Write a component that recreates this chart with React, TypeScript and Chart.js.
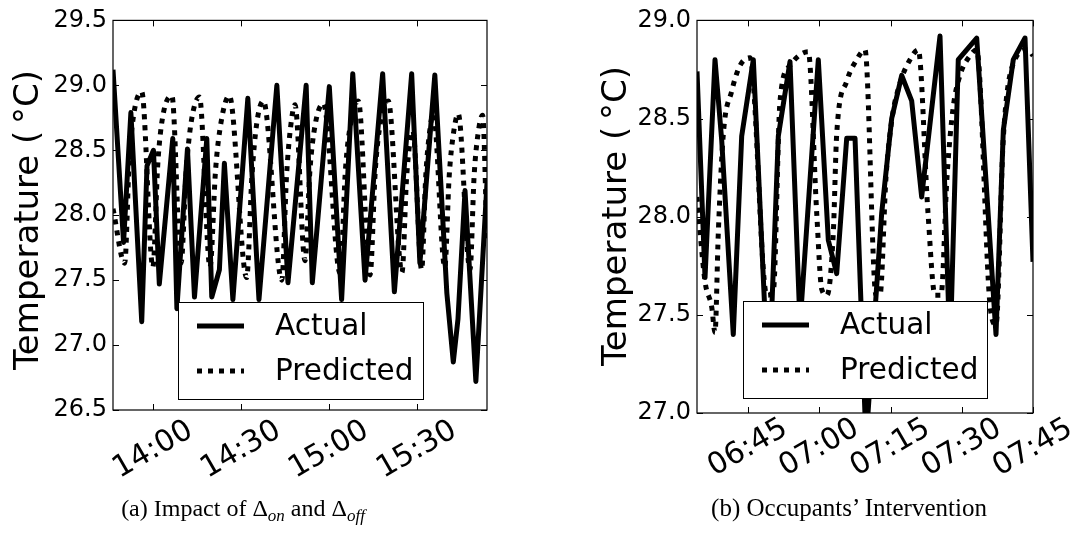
import React, { useEffect, useRef } from "react";
import { Chart, registerables } from "chart.js";

Chart.register(...registerables);

const FONT = "'DejaVu Sans', 'Noto Sans', sans-serif";
const Y_TICK_FS = 24;
const X_TICK_FS = 30;
const TITLE_FS = 34;
const LEGEND_FS = 29.5;
const SERIF = "'Liberation Serif', 'DejaVu Serif', serif";

// ---------- Panel (a): minutes since midnight, temperature (°C) ----------
const aActualTime = [826.3, 829.9, 832.4, 836.1, 837.9, 840.1, 842.1, 846.7, 848.1, 851.7, 854.1, 858.3, 860.0, 862.6, 864.3, 867.2, 872.3, 876.1, 882.2, 886.0, 892.2, 894.3, 900.1, 904.3, 908.1, 912.3, 918.3, 922.3, 928.2, 931.0, 936.1, 940.2, 942.4, 944.0, 946.4, 950.1, 953.9];
const aActualTemp = [29.12, 27.79, 28.79, 27.18, 28.38, 28.5, 27.47, 28.59, 27.28, 28.51, 27.37, 28.59, 27.37, 27.58, 28.4, 27.35, 28.9, 27.35, 29.0, 27.48, 29.0, 27.48, 28.99, 27.35, 29.09, 27.5, 29.09, 27.41, 29.09, 27.63, 29.08, 27.4, 26.87, 27.2, 28.19, 26.72, 28.25];
const aPredTime = [826.3, 830.3, 831.8, 833.2, 836.1, 839.9, 841.6, 843.2, 846.4, 849.5, 851.3, 853.0, 855.8, 859.4, 861.3, 863.2, 866.0, 871.9, 873.7, 875.3, 877.6, 883.9, 885.5, 886.9, 888.4, 891.8, 893.5, 895.3, 898.1, 903.8, 905.6, 907.5, 910.0, 914.0, 915.8, 917.6, 920.2, 924.9, 926.5, 928.6, 931.6, 933.0, 934.2, 935.6, 939.5, 941.0, 942.4, 944.1, 948.1, 949.5, 950.8, 952.4, 953.9];
const aPredTemp = [28.05, 27.63, 28.4, 28.75, 28.95, 27.6, 28.4, 28.75, 28.92, 27.63, 28.35, 28.72, 28.91, 27.6, 28.35, 28.72, 28.92, 27.52, 28.3, 28.7, 28.88, 27.5, 28.3, 28.68, 28.85, 27.65, 28.35, 28.7, 28.86, 27.55, 28.35, 28.72, 28.88, 27.54, 28.35, 28.72, 28.88, 27.56, 28.3, 28.65, 27.58, 28.3, 28.62, 28.78, 27.6, 28.3, 28.62, 28.78, 27.58, 28.3, 28.62, 28.77, 27.8];
const aXTicks = [840, 870, 900, 930];
const aXTickLabels = ["14:00", "14:30", "15:00", "15:30"];
const aYTicks = [26.5, 27.0, 27.5, 28.0, 28.5, 29.0, 29.5];

// ---------- Panel (b) ----------
const bActualTime = [394.26, 395.95, 398.05, 399.46, 401.9, 403.67, 406.12, 408.58, 409.99, 411.38, 413.84, 415.95, 419.8, 421.91, 423.67, 425.78, 427.53, 429.84, 433.15, 435.25, 437.36, 439.46, 441.56, 445.42, 447.53, 449.27, 453.15, 457.21, 458.75, 460.85, 463.32, 465.0];
const bActualTemp = [28.74, 27.69, 28.8, 28.39, 27.4, 28.41, 28.8, 27.5, 27.52, 28.41, 28.79, 27.45, 28.8, 27.88, 27.71, 28.4, 28.4, 26.85, 28.02, 28.5, 28.72, 28.59, 28.1, 28.92, 27.3, 28.8, 28.91, 27.4, 28.44, 28.8, 28.91, 27.77];
const bPredTime = [394.26, 395.95, 397.36, 398.05, 398.75, 399.8, 401.57, 403.32, 405.42, 408.94, 410.33, 411.74, 413.84, 417.69, 419.46, 420.52, 421.63, 422.96, 423.67, 425.78, 427.88, 429.63, 431.95, 432.79, 434.05, 435.32, 437.0, 439.1, 440.85, 442.89, 444.37, 445.63, 446.89, 448.16, 449.63, 451.74, 453.15, 455.95, 457.21, 458.75, 460.85, 463.95, 465.0];
const bPredTemp = [28.1, 27.67, 27.54, 27.41, 27.92, 28.42, 28.64, 28.77, 28.81, 27.6, 27.62, 28.59, 28.77, 28.84, 28.02, 27.63, 27.6, 27.92, 28.42, 28.69, 28.8, 28.85, 27.6, 27.6, 28.2, 28.5, 28.68, 28.8, 28.85, 28.02, 27.6, 27.6, 28.2, 28.55, 28.72, 28.82, 28.85, 27.55, 27.45, 28.4, 28.78, 28.85, 28.82];
const bXTicks = [405, 420, 435, 450, 465];
const bXTickLabels = ["06:45", "07:00", "07:15", "07:30", "07:45"];
const bYTicks = [27.0, 27.5, 28.0, 28.5, 29.0];

const seriesNames = ["Actual", "Predicted"];
const yTitle = "Temperature (\u2009°C)";

type Area = { left: number; top: number; right: number; bottom: number };
type PanelProps = {
  left: number;
  width: number;
  height: number;
  area: Area;
  xMin: number;
  xMax: number;
  yMin: number;
  yMax: number;
  xTicks: number[];
  xTickLabels: string[];
  yTicks: number[];
  actualT: number[];
  actualV: number[];
  predT: number[];
  predV: number[];
  legend: { x: number; y: number; w: number; h: number };
  titleX: number;
  titleY: number;
  xLabelOffset: number;
};

const XH = 4;

function PanelChart(p: PanelProps) {
  const ref = useRef<HTMLCanvasElement>(null);
  useEffect(() => {
    const canvas = ref.current!;
    const toPts = (t: number[], v: number[]) => t.map((x, i) => ({ x, y: v[i] }));
    const decor = {
      id: "decor",
      afterDraw(chart: any) {
        const { ctx, chartArea: a, scales } = chart;
        const xs = scales.x;
        const ys = scales.y;
        ctx.save();
        // frame
        ctx.strokeStyle = "#000";
        ctx.lineWidth = 1.2;
        ctx.strokeRect(a.left, a.top, a.right - a.left, a.bottom - a.top);
        // inward ticks on all sides
        ctx.lineWidth = 1;
        ctx.beginPath();
        for (const v of p.xTicks) {
          const px = Math.round(xs.getPixelForValue(v)) + 0.5;
          ctx.moveTo(px, a.bottom);
          ctx.lineTo(px, a.bottom - 6);
          ctx.moveTo(px, a.top);
          ctx.lineTo(px, a.top + 6);
        }
        for (const v of p.yTicks) {
          const py = Math.round(ys.getPixelForValue(v)) + 0.5;
          ctx.moveTo(a.left, py);
          ctx.lineTo(a.left + 6, py);
          ctx.moveTo(a.right, py);
          ctx.lineTo(a.right - 6, py);
        }
        ctx.stroke();
        // rotated x labels
        ctx.fillStyle = "#000";
        ctx.font = `${X_TICK_FS}px ${FONT}`;
        ctx.textAlign = "center";
        ctx.textBaseline = "middle";
        p.xTicks.forEach((v, i) => {
          const px = xs.getPixelForValue(v);
          ctx.save();
          ctx.translate(px, a.bottom + p.xLabelOffset);
          ctx.rotate(-Math.PI / 6);
          ctx.fillText(p.xTickLabels[i], 0, 0);
          ctx.restore();
        });
        // y title
        ctx.font = `${TITLE_FS}px ${FONT}`;
        ctx.save();
        ctx.translate(p.titleX, p.titleY);
        ctx.rotate(-Math.PI / 2);
        ctx.fillText(yTitle, 0, 0);
        ctx.restore();
        // legend
        const L = p.legend;
        ctx.fillStyle = "#fff";
        ctx.fillRect(L.x, L.y, L.w, L.h);
        ctx.strokeStyle = "#000";
        ctx.lineWidth = 1;
        ctx.strokeRect(L.x + 0.5, L.y + 0.5, L.w, L.h);
        const rows = [L.y + 24, L.y + 69];
        ctx.lineWidth = 5;
        ctx.lineCap = "butt";
        rows.forEach((ry, i) => {
          ctx.setLineDash(i === 0 ? [] : [5, 6]);
          ctx.beginPath();
          ctx.moveTo(L.x + 19, ry);
          ctx.lineTo(L.x + 66, ry);
          ctx.stroke();
        });
        ctx.setLineDash([]);
        ctx.fillStyle = "#000";
        ctx.font = `${LEGEND_FS}px ${FONT}`;
        ctx.textAlign = "left";
        ctx.textBaseline = "middle";
        rows.forEach((ry, i) => {
          ctx.fillText(seriesNames[i], L.x + 97, ry + 1);
        });
        ctx.restore();
      },
    };
    const chart = new Chart(canvas, {
      type: "line",
      data: {
        datasets: [
          {
            label: seriesNames[0],
            data: toPts(p.actualT, p.actualV),
            borderColor: "#000",
            borderWidth: 5,
            pointRadius: 0,
            tension: 0,
            borderJoinStyle: "round",
            clip: 0,
            order: 1,
          } as any,
          {
            label: seriesNames[1],
            data: toPts(p.predT, p.predV),
            borderColor: "#000",
            borderWidth: 5,
            borderDash: [5, 6],
            pointRadius: 0,
            cubicInterpolationMode: "monotone",
            borderJoinStyle: "round",
            clip: 0,
            order: 0,
          } as any,
        ],
      },
      options: {
        animation: false,
        responsive: false,
        devicePixelRatio: 1,
        layout: {
          padding: {
            left: 0,
            top: p.area.top,
            right: p.width - p.area.right,
            bottom: p.height - p.area.bottom - XH,
          },
        },
        plugins: { legend: { display: false }, tooltip: { enabled: false } },
        scales: {
          x: {
            type: "linear",
            min: p.xMin,
            max: p.xMax,
            ticks: { display: false },
            grid: { display: false, drawTicks: false },
            border: { display: false },
            afterBuildTicks: (s: any) => {
              s.ticks = p.xTicks.map((v) => ({ value: v }));
            },
            afterFit: (s: any) => {
              s.height = XH;
            },
          },
          y: {
            type: "linear",
            min: p.yMin,
            max: p.yMax,
            ticks: {
              font: { family: FONT, size: Y_TICK_FS },
              color: "#000",
              padding: 6,
              callback: (v: any) => Number(v).toFixed(1),
            },
            grid: { display: false, drawTicks: false },
            border: { display: false },
            afterBuildTicks: (s: any) => {
              s.ticks = p.yTicks.map((v) => ({ value: v }));
            },
            afterFit: (s: any) => {
              s.width = p.area.left;
            },
          },
        },
      } as any,
      plugins: [decor],
    });
    return () => chart.destroy();
  }, []);
  return (
    <canvas
      ref={ref}
      width={p.width}
      height={p.height}
      style={{ position: "absolute", left: p.left, top: 0, width: p.width, height: p.height }}
    />
  );
}

export default function App() {
  return (
    <div
      style={{
        position: "absolute",
        left: 0,
        top: 0,
        width: 1073,
        height: 544,
        background: "#fff",
        overflow: "hidden",
      }}
    >
      <PanelChart
        left={0}
        width={540}
        height={544}
        area={{ left: 113, top: 20, right: 487, bottom: 410 }}
        xMin={826.3}
        xMax={953.9}
        yMin={26.5}
        yMax={29.5}
        xTicks={aXTicks}
        xTickLabels={aXTickLabels}
        yTicks={aYTicks}
        actualT={aActualTime}
        actualV={aActualTemp}
        predT={aPredTime}
        predV={aPredTemp}
        legend={{ x: 178, y: 302, w: 245, h: 97 }}
        titleX={29}
        titleY={220}
        xLabelOffset={40}
      />
      <PanelChart
        left={540}
        width={533}
        height={544}
        area={{ left: 157, top: 20, right: 493, bottom: 413 }}
        xMin={394.26}
        xMax={465}
        yMin={27.0}
        yMax={29.0}
        xTicks={bXTicks}
        xTickLabels={bXTickLabels}
        yTicks={bYTicks}
        actualT={bActualTime}
        actualV={bActualTemp}
        predT={bPredTime}
        predV={bPredTemp}
        legend={{ x: 203, y: 301, w: 244, h: 97 }}
        titleX={77}
        titleY={216}
        xLabelOffset={35}
      />
      <div
        style={{
          position: "absolute",
          left: 43,
          width: 400,
          top: 494,
          textAlign: "center",
          fontFamily: SERIF,
          fontSize: 24,
          lineHeight: "28px",
          color: "#000",
          whiteSpace: "nowrap",
        }}
      >
        (a) Impact of Δ<sub style={{ fontStyle: "italic", fontSize: 17, verticalAlign: "-5px" }}>on</sub> and Δ
        <sub style={{ fontStyle: "italic", fontSize: 17, verticalAlign: "-5px" }}>off</sub>
      </div>
      <div
        style={{
          position: "absolute",
          left: 649,
          width: 400,
          top: 494,
          textAlign: "center",
          fontFamily: SERIF,
          fontSize: 25,
          lineHeight: "28px",
          color: "#000",
          whiteSpace: "nowrap",
        }}
      >
        (b) Occupants’ Intervention
      </div>
    </div>
  );
}
